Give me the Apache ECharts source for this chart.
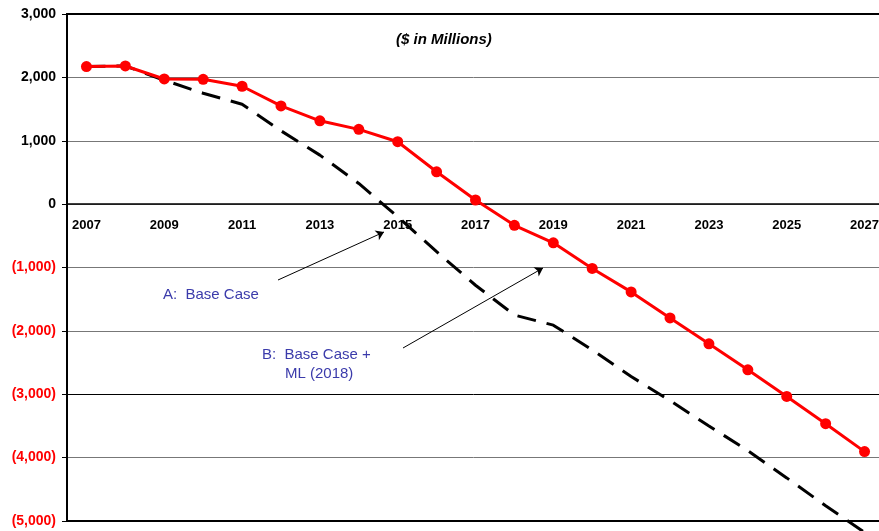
<!DOCTYPE html>
<html>
<head>
<meta charset="utf-8">
<script src="https://cdn.jsdelivr.net/npm/echarts@6/dist/echarts.min.js"></script>
<style>
  html, body { margin: 0; padding: 0; background: #fff; }
  #chart { width: 879px; height: 531px; }
</style>
</head>
<body>
<div id="chart"></div>
<script>
// 年份
const years = ["2007", "2008", "2009", "2010", "2011", "2012", "2013", "2014", "2015", "2016", "2017",
  "2018", "2019", "2020", "2021", "2022", "2023", "2024", "2025", "2026", "2027"];
// B: Base Case + ML (2018)  红线
const caseB = [2170, 2180, 1975, 1970, 1860, 1550, 1315, 1180, 985, 510, 65,
  -335, -610, -1015, -1385, -1795, -2205, -2615, -3035, -3465, -3905];
// A: Base Case  黑色虚线
const caseA = [2170, 2180, 1955, 1750, 1577, 1157, 773, 326, -200, -750, -1280,
  -1750, -1910, -2300, -2720, -3100, -3500, -3890, -4320, -4760, -5180];

const blue = "#3b3bab";
const yMin = -5000, yMax = 3000;
const gridTop = 14, gridH = 507;
// x轴放在 0 的位置
const zeroOffset = -(gridH * (0 - yMin) / (yMax - yMin));

let myChart = echarts.init(document.getElementById("chart"));
let option = {
  animation: false,
  grid: {
    left: 67, top: gridTop, height: gridH, width: 817,
    outerBoundsMode: "none",
    show: true, borderColor: "#000", borderWidth: 2
  },
  xAxis: {
    type: "category",
    data: years,
    offset: zeroOffset,
    axisLine: { onZero: false, lineStyle: { color: "#000", width: 1.5 } },
    axisTick: { interval: 0, length: 5, lineStyle: { color: "#000" } },
    axisLabel: {
      interval: 1, margin: 15,
      fontFamily: "Liberation Sans", fontWeight: "bold", fontSize: 13, color: "#000"
    },
    splitLine: { show: false }
  },
  yAxis: {
    type: "value",
    min: yMin, max: yMax, interval: 1000,
    axisLine: { show: true, lineStyle: { color: "#000", width: 2 } },
    axisTick: { show: true, length: 5, lineStyle: { color: "#000" } },
    axisLabel: {
      margin: 11,
      fontFamily: "Liberation Sans", fontWeight: "bold", fontSize: 14,
      formatter: function (v) {
        let s = Math.abs(v).toLocaleString("en-US");
        return v < 0 ? "(" + s + ")" : s;
      },
      color: function (v) {
        return Number(v) < 0 ? "#ff0000" : "#000";
      }
    },
    splitLine: {
      lineStyle: {
        color: ["#000", "#777", "#000", "#777", "#777", "#777", "#777", "#777", "#000"],
        width: 1
      }
    }
  },
  series: [
    {
      name: "A: Base Case",
      type: "line",
      data: caseA,
      symbol: "none",
      clip: false,
      lineStyle: { color: "#000", width: 3, type: [19, 11] },
      z: 2,
      markLine: {
        silent: true,
        symbol: ["none", "arrow"],
        symbolSize: 8,
        label: { show: false },
        lineStyle: { color: "#000", width: 1, type: "solid" },
        data: [
          [{ x: 278, y: 280 }, { x: 384, y: 232 }],
          [{ x: 403, y: 348 }, { x: 543, y: 268 }]
        ]
      }
    },
    {
      name: "B: Base Case + ML (2018)",
      type: "line",
      data: caseB,
      symbol: "circle",
      symbolSize: 11,
      lineStyle: { color: "#ff0000", width: 3 },
      itemStyle: { color: "#ff0000" },
      z: 3
    }
  ],
  graphic: [
    {
      type: "text", left: 396, top: 32,
      style: { text: "($ in Millions)", font: "italic bold 15px 'Liberation Sans'", fill: "#000" }
    },
    {
      type: "text", left: 163, top: 287,
      style: { text: "A:  Base Case", font: "15px 'Liberation Sans'", fill: blue }
    },
    {
      type: "text", left: 262, top: 347,
      style: { text: "B:  Base Case +", font: "15px 'Liberation Sans'", fill: blue }
    },
    {
      type: "text", left: 285, top: 366,
      style: { text: "ML (2018)", font: "15px 'Liberation Sans'", fill: blue }
    }
  ]
};
myChart.setOption(option);
</script>
</body>
</html>
